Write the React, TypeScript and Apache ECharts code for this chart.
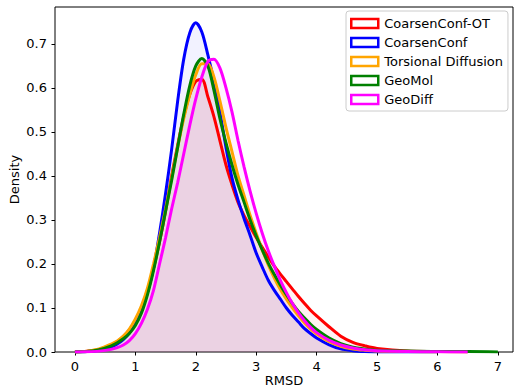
import React, { useEffect, useRef } from "react";
import * as echarts from "echarts";

const seriesNames = ["CoarsenConf-OT", "CoarsenConf", "Torsional Diffusion", "GeoMol", "GeoDiff"];
const seriesColors = ["#ff0000", "#0000ff", "#ffa500", "#008000", "#ff00ff"];
const fillOpacity = [0.05, 0.05, 0.03, 0.03, 0.05];

const xGrid = [
  0, 0.2, 0.4, 0.6, 0.7, 0.8, 0.9, 1.0, 1.1, 1.2, 1.3, 1.4, 1.5, 1.6, 1.7, 1.8, 1.9, 2.0,
  2.1, 2.2, 2.3, 2.4, 2.5, 2.6, 2.7, 2.8, 2.9, 3.0, 3.1, 3.2, 3.3, 3.4, 3.5, 3.6, 3.7, 3.8,
  3.9, 4.0, 4.2, 4.4, 4.6, 4.8, 5.0, 5.5, 6.0, 6.5, 7.0,
];

const coarsenConfOT = [
  0, 0.002, 0.006, 0.016, 0.024, 0.035, 0.05, 0.07, 0.1, 0.14, 0.19, 0.25, 0.32, 0.4, 0.47, 0.535, 0.585, 0.615,
  0.62, 0.58, 0.535, 0.48, 0.425, 0.38, 0.34, 0.31, 0.285, 0.26, 0.238, 0.216, 0.195, 0.177, 0.16, 0.143, 0.126, 0.11,
  0.095, 0.082, 0.058, 0.036, 0.022, 0.014, 0.008, 0.002, 0.001, 0, 0,
];
const coarsenConf = [
  0, 0.001, 0.004, 0.011, 0.018, 0.028, 0.043, 0.065, 0.095, 0.135, 0.19, 0.27, 0.36, 0.46, 0.57, 0.665, 0.725, 0.748,
  0.727, 0.675, 0.615, 0.545, 0.465, 0.395, 0.345, 0.303, 0.265, 0.225, 0.193, 0.163, 0.14, 0.12, 0.1, 0.083, 0.068, 0.053,
  0.042, 0.032, 0.017, 0.007, 0.003, 0.001, 0, 0, 0, 0, 0,
];
const torsionalDiffusion = [
  0, 0.002, 0.007, 0.018, 0.025, 0.036, 0.052, 0.075, 0.105, 0.145, 0.2, 0.26, 0.325, 0.395, 0.465, 0.53, 0.585, 0.63,
  0.655, 0.655, 0.625, 0.57, 0.51, 0.455, 0.4, 0.355, 0.31, 0.27, 0.232, 0.198, 0.168, 0.142, 0.12, 0.1, 0.082, 0.066,
  0.052, 0.041, 0.024, 0.013, 0.007, 0.004, 0.002, 0.001, 0, 0, 0,
];
const geoMol = [
  0, 0.001, 0.005, 0.014, 0.021, 0.03, 0.042, 0.06, 0.088, 0.13, 0.185, 0.25, 0.32, 0.39, 0.465, 0.54, 0.605, 0.65,
  0.667, 0.65, 0.595, 0.53, 0.475, 0.425, 0.38, 0.34, 0.3, 0.264, 0.232, 0.202, 0.176, 0.152, 0.13, 0.11, 0.092, 0.077,
  0.063, 0.051, 0.032, 0.019, 0.011, 0.007, 0.004, 0.002, 0.001, 0.001, 0,
];
const geoDiff = [
  0, 0.0005, 0.002, 0.006, 0.01, 0.016, 0.026, 0.042, 0.065, 0.097, 0.14, 0.2, 0.26, 0.325, 0.385, 0.45, 0.515, 0.575,
  0.625, 0.66, 0.665, 0.645, 0.6, 0.545, 0.48, 0.42, 0.365, 0.315, 0.27, 0.23, 0.195, 0.163, 0.135, 0.11, 0.089, 0.071,
  0.056, 0.044, 0.027, 0.016, 0.009, 0.005, 0.003, 0.001, 0.0005, 0, 0,
];
const seriesValues = [coarsenConfOT, coarsenConf, torsionalDiffusion, geoMol, geoDiff];
const seriesEnd = [6.5, 6.0, 6.0, 7.0, 6.5];

const xTicks = [0, 1, 2, 3, 4, 5, 6, 7];
const yTicks = [0, 0.1, 0.2, 0.3, 0.4, 0.5, 0.6, 0.7];

const FONT = "DejaVu Sans";
const FS = 13;

export default function App() {
  const ref = useRef<HTMLDivElement>(null);
  useEffect(() => {
    if (!ref.current) return;
    const chart = echarts.init(ref.current, null, { renderer: "svg" });
    const series = seriesNames.map((name, i) => ({
      name,
      type: "line",
      smooth: 0.3,
      showSymbol: false,
      symbol: "none",
      data: xGrid
        .map((x, j) => [x, seriesValues[i][j]])
        .filter((p) => p[0] <= seriesEnd[i]),
      lineStyle: { color: seriesColors[i], width: 3 },
      itemStyle: { color: seriesColors[i] },
      areaStyle: { color: seriesColors[i], opacity: fillOpacity[i] },
      emphasis: { disabled: true },
    }));
    chart.setOption({
      animation: false,
      backgroundColor: "#ffffff",
      textStyle: { fontFamily: FONT },
      grid: {
        left: 55,
        right: 1,
        top: 7,
        bottom: 37,
        show: true,
        borderColor: "#000",
        borderWidth: 1,
        backgroundColor: "transparent",
        containLabel: false,
        outerBoundsMode: "none",
      },
      legend: {
        orient: "vertical",
        left: 346,
        top: 11,
        padding: [5, 5, 4, 4],
        itemWidth: 27,
        itemHeight: 9,
        itemGap: 4,
        icon: "rect",
        backgroundColor: "rgba(255,255,255,0.8)",
        borderColor: "#cccccc",
        borderWidth: 1,
        borderRadius: 3,
        textStyle: { fontFamily: FONT, fontSize: FS, color: "#000", lineHeight: 15, padding: [0, 0, 0, 1] },
        data: seriesNames.map((n, i) => ({
          name: n,
          icon: "rect",
          itemStyle: { color: "rgba(255,255,255,0)", borderColor: seriesColors[i], borderWidth: 2.5 },
        })),
      },
      xAxis: {
        type: "value",
        min: -0.33,
        max: 7.25,
        name: "RMSD",
        nameLocation: "middle",
        nameGap: 22,
        nameMoveOverlap: false,
        nameTextStyle: { fontFamily: FONT, fontSize: FS, color: "#000", lineHeight: 13 },
        axisLine: { show: false, onZero: false },
        axisTick: { show: true, length: 3.5, lineStyle: { color: "#000", width: 1 }, customValues: xTicks },
        axisLabel: {
          fontFamily: FONT,
          fontSize: FS,
          color: "#000",
          margin: 8,
          customValues: xTicks,
          formatter: (v: number) => String(v),
        },
        splitLine: { show: false },
      },
      yAxis: {
        type: "value",
        min: 0,
        max: 0.784,
        name: "Density",
        nameLocation: "middle",
        nameGap: 34,
        nameMoveOverlap: false,
        nameTextStyle: { fontFamily: FONT, fontSize: FS, color: "#000", lineHeight: 13 },
        axisLine: { show: false, onZero: false },
        axisTick: { show: true, length: 3.5, lineStyle: { color: "#000", width: 1 }, customValues: yTicks },
        axisLabel: {
          fontFamily: FONT,
          fontSize: FS,
          color: "#000",
          margin: 8,
          customValues: yTicks,
          formatter: (v: number) => v.toFixed(1),
        },
        splitLine: { show: false },
      },
      series,
    });
    return () => chart.dispose();
  }, []);
  return <div ref={ref} style={{ width: 514, height: 389, position: "absolute", left: 0, top: 0 }} />;
}
